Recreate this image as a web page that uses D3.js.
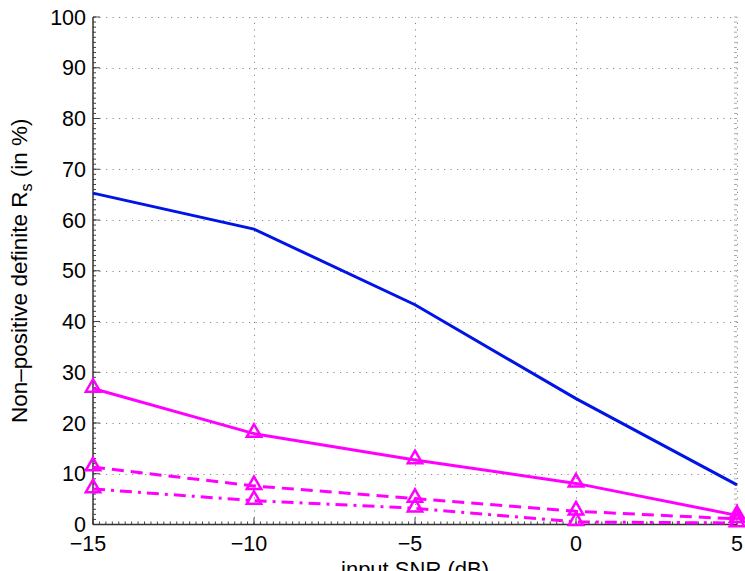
<!DOCTYPE html>
<html><head><meta charset="utf-8">
<script src="https://cdn.jsdelivr.net/npm/d3@7"></script>
<style>
html,body{margin:0;padding:0;background:#fff;}
svg{display:block;font-family:"Liberation Sans",Arial,Helvetica,sans-serif;}
</style></head>
<body>
<svg id="c" width="745" height="571"></svg>
<script>
const snr = [-15, -10, -5, 0, 5];
const xTicks = [-15, -10, -5, 0, 5];
const xTickLabels = ["\u221215", "\u221210", "\u22125", "0", "5"];
const yTicks = [0, 10, 20, 30, 40, 50, 60, 70, 80, 90, 100];
const blueSolid = [65.3, 58.2, 43.3, 24.8, 7.8];
const magentaSolid = [26.8, 17.9, 12.7, 8.1, 1.8];
const magentaDashed = [11.3, 7.6, 5.1, 2.6, 1.1];
const magentaDashDot = [7.0, 4.7, 3.2, 0.5, 0.3];
const xLabel = "input SNR (dB)";

const svg = d3.select("#c");
const L = 93, R = 737, T = 17, B = 524.5;
const x = d3.scaleLinear().domain([-15, 5]).range([L, R]);
const y = d3.scaleLinear().domain([0, 100]).range([B, T]);

// grid
const grid = svg.append("g").attr("stroke", "#888").attr("stroke-width", 1).attr("stroke-dasharray", "1.2,5.3");
grid.selectAll(".gy").data(yTicks.filter(d => d > 0)).enter().append("line")
  .attr("x1", L).attr("x2", R).attr("y1", d => Math.round(y(d)) + 0.5).attr("y2", d => Math.round(y(d)) + 0.5);
grid.selectAll(".gx").data(xTicks.filter(d => d > -15)).enter().append("line")
  .attr("y1", B).attr("y2", T).attr("x1", d => Math.round(x(d)) + 0.5).attr("x2", d => Math.round(x(d)) + 0.5);

// minor ticks
const minorY = d3.range(0, 100.01, 1);
const minorX = d3.range(-15, 5.001, 0.2);
const ax = svg.append("g").attr("stroke", "#444").attr("stroke-width", 1);
ax.selectAll(".my").data(minorY).enter().append("line")
  .attr("x1", L).attr("x2", L + 3).attr("y1", d => y(d)).attr("y2", d => y(d));
ax.selectAll(".myr").data(minorY).enter().append("line")
  .attr("stroke", "#aaa")
  .attr("x1", R).attr("x2", R - 3).attr("y1", d => y(d)).attr("y2", d => y(d));
ax.selectAll(".mx").data(minorX).enter().append("line")
  .attr("y1", B).attr("y2", B - 3).attr("x1", d => x(d)).attr("x2", d => x(d));
// major ticks
ax.selectAll(".My").data(yTicks).enter().append("line")
  .attr("x1", L).attr("x2", L + 7).attr("y1", d => y(d)).attr("y2", d => y(d));
ax.selectAll(".Mx").data(xTicks).enter().append("line")
  .attr("y1", B).attr("y2", B - 7).attr("x1", d => x(d)).attr("x2", d => x(d));
// axis lines
svg.append("line").attr("x1", L).attr("x2", L).attr("y1", T).attr("y2", B).attr("stroke", "#333").attr("stroke-width", 1.5);
svg.append("line").attr("x1", L).attr("x2", R).attr("y1", B).attr("y2", B).attr("stroke", "#333").attr("stroke-width", 1.5);

// tick labels
svg.append("g").selectAll("text").data(yTicks).enter().append("text")
  .attr("x", 86).attr("y", d => y(d)).attr("dy", "0.36em").attr("text-anchor", "end")
  .attr("font-size", 21.5).attr("fill", "#000").text(d => d);
svg.append("g").selectAll("text").data(xTicks).enter().append("text")
  .attr("x", (d, i) => x(d) - (i < 3 ? 5 : 0)).attr("y", 551).attr("text-anchor", "middle")
  .attr("font-size", 21.5).attr("fill", "#000").text((d, i) => xTickLabels[i]);

// axis labels
svg.append("text").attr("x", (L + R) / 2).attr("y", 577).attr("text-anchor", "middle")
  .attr("font-size", 22).attr("fill", "#000").text(xLabel);
const yl = svg.append("text").attr("transform", `translate(27,${(T + B) / 2}) rotate(-90)`)
  .attr("text-anchor", "middle").attr("font-size", 22.5).attr("fill", "#000");
yl.append("tspan").text("Non\u2013positive definite R");
yl.append("tspan").attr("font-size", 16).attr("dy", 5).text("s");
yl.append("tspan").attr("dy", -5).text(" (in %)");

// series
const line = d3.line().x((d, i) => x(snr[i])).y(d => y(d));
const series = [
  {v: blueSolid, c: "#0014e6", dash: null, marker: false},
  {v: magentaSolid, c: "#ff00ff", dash: null, marker: true},
  {v: magentaDashed, c: "#ff00ff", dash: "12,7", marker: true},
  {v: magentaDashDot, c: "#ff00ff", dash: "12,6,3,6", marker: true}
];
const tri = d3.symbol().type(d3.symbolTriangle).size(90);
series.forEach(s => {
  svg.append("path").datum(s.v).attr("d", line).attr("fill", "none")
    .attr("stroke", s.c).attr("stroke-width", 3).attr("stroke-dasharray", s.dash);
  if (s.marker) {
    svg.append("g").selectAll("path").data(s.v).enter().append("path")
      .attr("d", tri).attr("transform", (d, i) => `translate(${x(snr[i])},${y(d) - 1})`)
      .attr("fill", "none").attr("stroke", s.c).attr("stroke-width", 2.5);
  }
});
</script>
</body></html>
